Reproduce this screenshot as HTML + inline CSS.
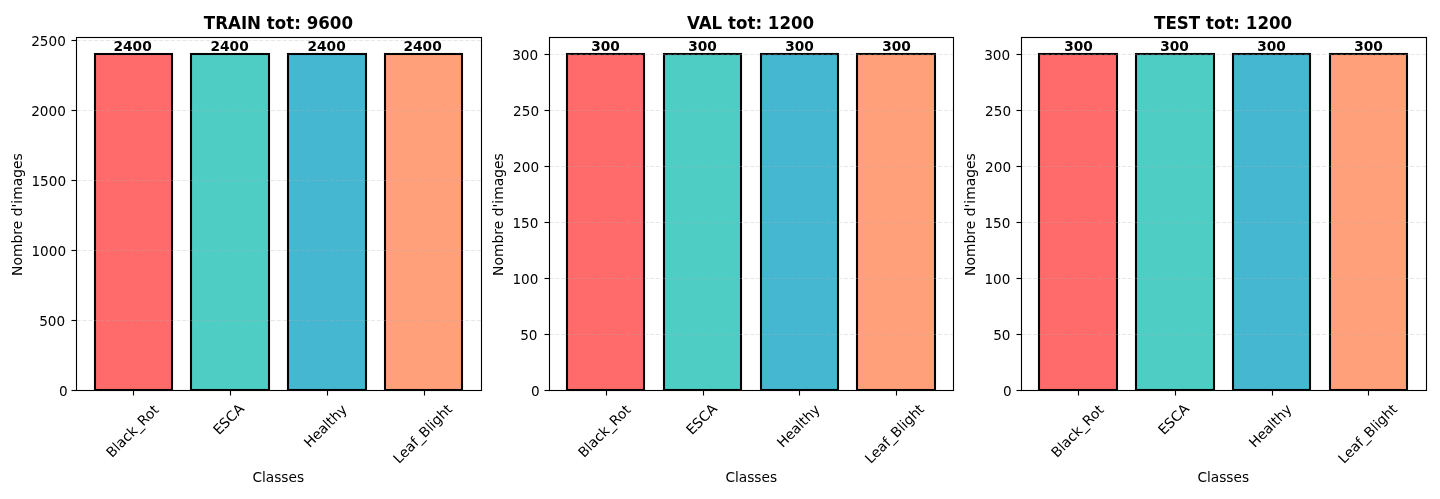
<!DOCTYPE html>
<html lang="fr">
<head>
<meta charset="utf-8">
<title>Distribution des classes</title>
<style>
html,body{margin:0;padding:0;background:#ffffff;}
body{width:1440px;height:499px;overflow:hidden;}
svg{display:block;}
svg text{font-family:"DejaVu Sans","Liberation Sans",sans-serif;fill:#000000;}
</style>
</head>
<body>
<svg width="1440" height="499" viewBox="0 0 1440 499">
<rect x="0" y="0" width="1440" height="499" fill="#ffffff"/>
<g>
<clipPath id="c0"><rect x="76" y="37" width="406" height="354"/></clipPath>
<g clip-path="url(#c0)" stroke="#000000" stroke-width="2.0833" stroke-linejoin="miter">
<rect x="95" y="54" width="77" height="336" fill="#ff6b6b"/>
<rect x="191" y="54" width="78" height="336" fill="#4ecdc4"/>
<rect x="288" y="54" width="78" height="336" fill="#45b7d1"/>
<rect x="385" y="54" width="77" height="336" fill="#ffa07a"/>
</g>
<path d="M76.55 390.5H481.5M76.55 320.5H481.5M76.55 250.5H481.5M76.55 180.5H481.5M76.55 110.5H481.5M76.55 40.5H481.5" fill="none" stroke="#b0b0b0" stroke-opacity="0.3" stroke-width="1.1111" stroke-dasharray="4.1111 1.7778"/>
<g fill="#000000"><rect x="71.5" y="389.9445" width="5" height="1.1111"/><rect x="71.5" y="319.9445" width="5" height="1.1111"/><rect x="71.5" y="249.9444" width="5" height="1.1111"/><rect x="71.5" y="179.9444" width="5" height="1.1111"/><rect x="71.5" y="109.9445" width="5" height="1.1111"/><rect x="71.5" y="39.9445" width="5" height="1.1111"/><rect x="132.9444" y="390.5" width="1.1111" height="5"/><rect x="229.9444" y="390.5" width="1.1111" height="5"/><rect x="326.9445" y="390.5" width="1.1111" height="5"/><rect x="423.9445" y="390.5" width="1.1111" height="5"/></g>
<rect x="76.5" y="37.5" width="405" height="353" fill="none" stroke="#000000" stroke-width="1.1111" stroke-linejoin="miter"/>
</g>
<g>
<clipPath id="c1"><rect x="549" y="37" width="405" height="354"/></clipPath>
<g clip-path="url(#c1)" stroke="#000000" stroke-width="2.0833" stroke-linejoin="miter">
<rect x="567" y="54" width="77" height="336" fill="#ff6b6b"/>
<rect x="664" y="54" width="77" height="336" fill="#4ecdc4"/>
<rect x="761" y="54" width="77" height="336" fill="#45b7d1"/>
<rect x="857" y="54" width="78" height="336" fill="#ffa07a"/>
</g>
<path d="M549.55 390.5H953.5M549.55 334.5H953.5M549.55 278.5H953.5M549.55 222.5H953.5M549.55 166.5H953.5M549.55 110.5H953.5M549.55 54.5H953.5" fill="none" stroke="#b0b0b0" stroke-opacity="0.3" stroke-width="1.1111" stroke-dasharray="4.1111 1.7778"/>
<g fill="#000000"><rect x="544.5" y="389.9445" width="5" height="1.1111"/><rect x="544.5" y="333.9445" width="5" height="1.1111"/><rect x="544.5" y="277.9445" width="5" height="1.1111"/><rect x="544.5" y="221.9444" width="5" height="1.1111"/><rect x="544.5" y="165.9444" width="5" height="1.1111"/><rect x="544.5" y="109.9445" width="5" height="1.1111"/><rect x="544.5" y="53.9445" width="5" height="1.1111"/><rect x="605.9444" y="390.5" width="1.1111" height="5"/><rect x="702.9444" y="390.5" width="1.1111" height="5"/><rect x="798.9444" y="390.5" width="1.1111" height="5"/><rect x="895.9444" y="390.5" width="1.1111" height="5"/></g>
<rect x="549.5" y="37.5" width="404" height="353" fill="none" stroke="#000000" stroke-width="1.1111" stroke-linejoin="miter"/>
</g>
<g>
<clipPath id="c2"><rect x="1021" y="37" width="406" height="354"/></clipPath>
<g clip-path="url(#c2)" stroke="#000000" stroke-width="2.0833" stroke-linejoin="miter">
<rect x="1039" y="54" width="78" height="336" fill="#ff6b6b"/>
<rect x="1136" y="54" width="78" height="336" fill="#4ecdc4"/>
<rect x="1233" y="54" width="77" height="336" fill="#45b7d1"/>
<rect x="1330" y="54" width="77" height="336" fill="#ffa07a"/>
</g>
<path d="M1021.55 390.5H1426.5M1021.55 334.5H1426.5M1021.55 278.5H1426.5M1021.55 222.5H1426.5M1021.55 166.5H1426.5M1021.55 110.5H1426.5M1021.55 54.5H1426.5" fill="none" stroke="#b0b0b0" stroke-opacity="0.3" stroke-width="1.1111" stroke-dasharray="4.1111 1.7778"/>
<g fill="#000000"><rect x="1016.5" y="389.9445" width="5" height="1.1111"/><rect x="1016.5" y="333.9445" width="5" height="1.1111"/><rect x="1016.5" y="277.9445" width="5" height="1.1111"/><rect x="1016.5" y="221.9444" width="5" height="1.1111"/><rect x="1016.5" y="165.9444" width="5" height="1.1111"/><rect x="1016.5" y="109.9445" width="5" height="1.1111"/><rect x="1016.5" y="53.9445" width="5" height="1.1111"/><rect x="1077.9444" y="390.5" width="1.1111" height="5"/><rect x="1174.9444" y="390.5" width="1.1111" height="5"/><rect x="1271.9444" y="390.5" width="1.1111" height="5"/><rect x="1367.9444" y="390.5" width="1.1111" height="5"/></g>
<rect x="1021.5" y="37.5" width="405" height="353" fill="none" stroke="#000000" stroke-width="1.1111" stroke-linejoin="miter"/>
</g>
<g class="t">
<text transform="translate(111.877 458.28) rotate(-45)" font-size="13.889">Black_Rot</text>
<text transform="translate(218.887 435.574) rotate(-45)" font-size="13.889">ESCA</text>
<text transform="translate(309.68 448.353) rotate(-45)" font-size="13.889">Healthy</text>
<text transform="translate(398.944 464.206) rotate(-45)" font-size="13.889">Leaf_Blight</text>
<text transform="translate(278.265 481.509) scale(0.99 1)" text-anchor="middle" font-size="13.889">Classes</text>
<text transform="translate(67.757 396.158) scale(0.98 1)" text-anchor="end" font-size="13.889">0</text>
<text transform="translate(65.157 325.526) scale(0.98 1)" text-anchor="end" font-size="13.889">500</text>
<text transform="translate(66.072 255.549) scale(0.98 1)" text-anchor="end" font-size="13.889">1000</text>
<text transform="translate(66.093 185.582) scale(0.98 1)" text-anchor="end" font-size="13.889">1500</text>
<text transform="translate(65.83 115.541) scale(0.98 1)" text-anchor="end" font-size="13.889">2000</text>
<text transform="translate(65.826 45.514) scale(0.98 1)" text-anchor="end" font-size="13.889">2500</text>
<text transform="translate(21.526 214.583) rotate(-90)" text-anchor="middle" font-size="13.889">Nombre d'images</text>
<text transform="translate(132.628 50.56) scale(0.99 1)" text-anchor="middle" font-size="13.889" font-weight="700">2400</text>
<text transform="translate(229.593 50.614) scale(0.99 1)" text-anchor="middle" font-size="13.889" font-weight="700">2400</text>
<text transform="translate(326.587 50.521) scale(0.99 1)" text-anchor="middle" font-size="13.889" font-weight="700">2400</text>
<text transform="translate(422.608 50.621) scale(0.99 1)" text-anchor="middle" font-size="13.889" font-weight="700">2400</text>
<text transform="translate(278.436 28.609) scale(1 1.07)" text-anchor="middle" font-size="16.667" font-weight="700">TRAIN tot: 9600</text>
<text transform="translate(583.88 458.256) rotate(-45)" font-size="13.889">Black_Rot</text>
<text transform="translate(691.924 435.59) rotate(-45)" font-size="13.889">ESCA</text>
<text transform="translate(782.686 448.35) rotate(-45)" font-size="13.889">Healthy</text>
<text transform="translate(870.784 464.232) rotate(-45)" font-size="13.889">Leaf_Blight</text>
<text transform="translate(751.257 481.613) scale(0.99 1)" text-anchor="middle" font-size="13.889">Classes</text>
<text transform="translate(539.679 395.563) scale(0.98 1)" text-anchor="end" font-size="13.889">0</text>
<text transform="translate(537.473 339.529) scale(0.98 1)" text-anchor="end" font-size="13.889">50</text>
<text transform="translate(538.397 283.503) scale(0.98 1)" text-anchor="end" font-size="13.889">100</text>
<text transform="translate(538.387 227.528) scale(0.98 1)" text-anchor="end" font-size="13.889">150</text>
<text transform="translate(539.045 171.52) scale(0.98 1)" text-anchor="end" font-size="13.889">200</text>
<text transform="translate(539.053 115.522) scale(0.98 1)" text-anchor="end" font-size="13.889">250</text>
<text transform="translate(538.148 59.591) scale(0.98 1)" text-anchor="end" font-size="13.889">300</text>
<text transform="translate(502.513 214.583) rotate(-90)" text-anchor="middle" font-size="13.889">Nombre d'images</text>
<text transform="translate(605.564 50.611) scale(0.99 1)" text-anchor="middle" font-size="13.889" font-weight="700">300</text>
<text transform="translate(702.569 50.57) scale(0.99 1)" text-anchor="middle" font-size="13.889" font-weight="700">300</text>
<text transform="translate(799.459 50.55) scale(0.99 1)" text-anchor="middle" font-size="13.889" font-weight="700">300</text>
<text transform="translate(896.571 50.569) scale(0.99 1)" text-anchor="middle" font-size="13.889" font-weight="700">300</text>
<text transform="translate(750.572 29.048) scale(1 1.07)" text-anchor="middle" font-size="16.667" font-weight="700">VAL tot: 1200</text>
<text transform="translate(1056.902 458.291) rotate(-45)" font-size="13.889">Black_Rot</text>
<text transform="translate(1163.893 435.599) rotate(-45)" font-size="13.889">ESCA</text>
<text transform="translate(1254.626 448.31) rotate(-45)" font-size="13.889">Healthy</text>
<text transform="translate(1343.969 464.234) rotate(-45)" font-size="13.889">Leaf_Blight</text>
<text transform="translate(1223.252 481.513) scale(0.99 1)" text-anchor="middle" font-size="13.889">Classes</text>
<text transform="translate(1011.588 395.648) scale(0.98 1)" text-anchor="end" font-size="13.889">0</text>
<text transform="translate(1010.482 339.595) scale(0.98 1)" text-anchor="end" font-size="13.889">50</text>
<text transform="translate(1010.384 283.517) scale(0.98 1)" text-anchor="end" font-size="13.889">100</text>
<text transform="translate(1010.4 227.503) scale(0.98 1)" text-anchor="end" font-size="13.889">150</text>
<text transform="translate(1011.058 171.584) scale(0.98 1)" text-anchor="end" font-size="13.889">200</text>
<text transform="translate(1011.053 115.545) scale(0.98 1)" text-anchor="end" font-size="13.889">250</text>
<text transform="translate(1010.126 59.617) scale(0.98 1)" text-anchor="end" font-size="13.889">300</text>
<text transform="translate(974.538 214.583) rotate(-90)" text-anchor="middle" font-size="13.889">Nombre d'images</text>
<text transform="translate(1078.56 50.574) scale(0.99 1)" text-anchor="middle" font-size="13.889" font-weight="700">300</text>
<text transform="translate(1174.57 50.561) scale(0.99 1)" text-anchor="middle" font-size="13.889" font-weight="700">300</text>
<text transform="translate(1271.569 50.61) scale(0.99 1)" text-anchor="middle" font-size="13.889" font-weight="700">300</text>
<text transform="translate(1368.574 50.569) scale(0.99 1)" text-anchor="middle" font-size="13.889" font-weight="700">300</text>
<text transform="translate(1223.12 28.55) scale(1 1.07)" text-anchor="middle" font-size="16.667" font-weight="700">TEST tot: 1200</text>
</g>
</svg>
</body>
</html>
